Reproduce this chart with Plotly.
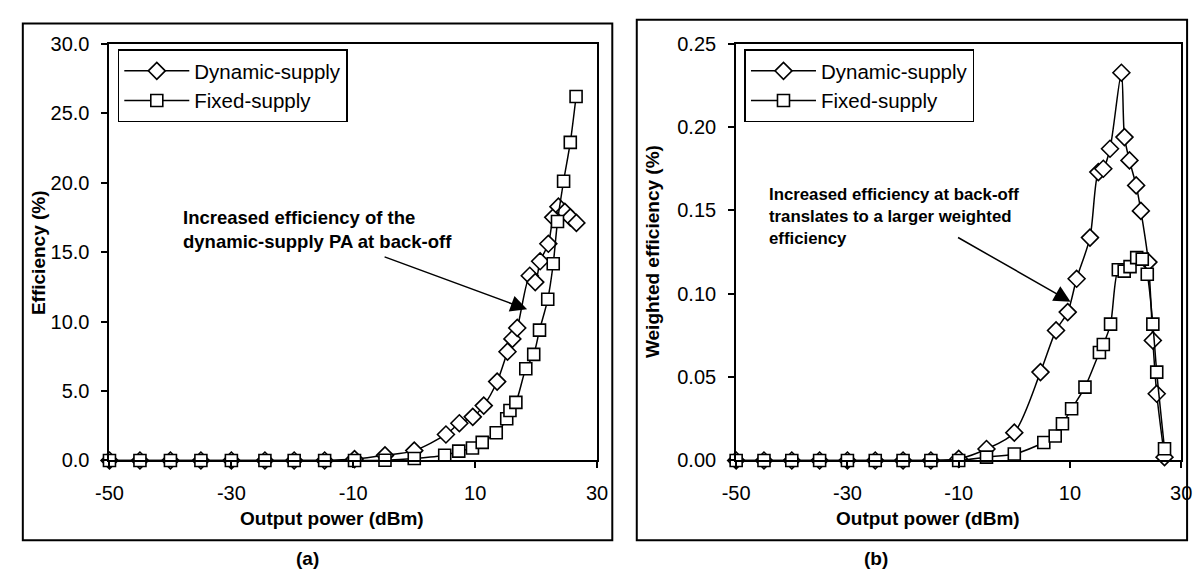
import plotly.graph_objects as go

# ---------------- data ----------------
# (a) Efficiency (%)
dyn_x_a = [-50, -45, -40, -35, -30, -24.5, -19.7, -14.7, -9.8, -4.8, 0, 5.2, 7.4, 9.6, 11.4, 13.6,
           15.3, 16.1, 16.9, 18.95, 19.85, 20.65, 22.0, 22.8, 23.65, 24.7, 25.6, 26.6]
dyn_y_a = [0, 0, 0, 0, 0, 0, 0, 0, 0.1, 0.37, 0.71, 1.87, 2.68, 3.14, 3.95, 5.68,
           7.83, 8.75, 9.54, 13.3, 12.84, 14.34, 15.6, 17.5, 18.27, 17.9, 17.5, 17.1]
fix_x_a = [-50, -45, -40, -35, -30, -24.5, -19.7, -14.7, -9.8, -4.8, 0, 5.0, 7.3, 9.55, 11.15, 13.45,
           15.17, 15.7, 16.67, 18.3, 19.6, 20.55, 21.9, 22.8, 23.5, 24.5, 25.6, 26.55]
fix_y_a = [0, 0, 0, 0, 0, 0, 0, 0, 0, 0.02, 0.14, 0.37, 0.67, 0.9, 1.3, 1.99,
           3.0, 3.6, 4.18, 6.6, 7.64, 9.38, 11.6, 14.16, 17.2, 20.1, 22.9, 26.2]

# (b) Weighted efficiency (%)
dyn_x_b = [-50, -45, -40, -35, -30, -25, -20, -15, -10, -5, 0, 4.7, 7.5, 9.6, 11.2, 13.6,
           15.1, 16.0, 17.2, 19.25, 19.8, 20.7, 21.9, 22.75, 24.1, 24.9, 25.6, 27.0]
dyn_y_b = [0, 0, 0, 0, 0, 0, 0, 0, 0.001, 0.0069, 0.0167, 0.053, 0.078, 0.089, 0.109, 0.1337,
           0.173, 0.175, 0.187, 0.2326, 0.194, 0.18, 0.165, 0.1497, 0.119, 0.072, 0.04, 0.002]
fix_x_b = [-50, -45, -40, -35, -30, -25, -20, -15, -10, -5, 0, 5.3, 7.35, 8.65, 10.3, 12.7,
           15.3, 16.0, 17.3, 18.7, 19.75, 20.8, 22.0, 23.0, 23.9, 24.9, 25.6, 27.0]
fix_y_b = [0, 0, 0, 0, 0, 0, 0, 0, 0, 0.002, 0.0039, 0.0108, 0.0147, 0.022, 0.031, 0.044,
           0.0648, 0.0696, 0.0818, 0.1144, 0.1136, 0.1163, 0.1217, 0.1208, 0.1117, 0.0818, 0.053, 0.007]

series_names = ["Dynamic-supply", "Fixed-supply"]
x_ticks = [-50, -30, -10, 10, 30]
x_tick_text = ["-50", "-30", "-10", "10", "30"]

# ---------------- layout helpers ----------------
W, H = 1202, 586
FONT = "Arial, Liberation Sans, sans-serif"


def fx(p):
    return p / W


def fy(p):
    return 1 - p / H


fig = go.Figure()

marker_common = dict(color="white", line=dict(color="black", width=1.6))
line_common = dict(color="black", width=1.5, shape="spline", smoothing=0.8)

fig.add_trace(go.Scatter(x=dyn_x_a, y=dyn_y_a, name=series_names[0], mode="lines+markers",
                         line=line_common, marker=dict(symbol="diamond", size=13, **marker_common),
                         cliponaxis=False, xaxis="x", yaxis="y", legend="legend", legendgroup="a1"))
fig.add_trace(go.Scatter(x=fix_x_a, y=fix_y_a, name=series_names[1], mode="lines+markers",
                         line=line_common, marker=dict(symbol="square", size=12, **marker_common),
                         cliponaxis=False, xaxis="x", yaxis="y", legend="legend", legendgroup="a2"))
fig.add_trace(go.Scatter(x=dyn_x_b, y=dyn_y_b, name=series_names[0], mode="lines+markers",
                         line=line_common, marker=dict(symbol="diamond", size=13, **marker_common),
                         cliponaxis=False, xaxis="x2", yaxis="y2", legend="legend2", legendgroup="b1"))
fig.add_trace(go.Scatter(x=fix_x_b, y=fix_y_b, name=series_names[1], mode="lines+markers",
                         line=line_common, marker=dict(symbol="square", size=12, **marker_common),
                         cliponaxis=False, xaxis="x2", yaxis="y2", legend="legend2", legendgroup="b2"))

axis_common = dict(showline=True, mirror=True, linecolor="black", linewidth=2,
                   ticks="outside", ticklen=6, tickwidth=1.5, tickcolor="black",
                   showgrid=False, zeroline=False,
                   tickfont=dict(family=FONT, size=20, color="black"))

xa = dict(range=[-50, 30], tickmode="array", tickvals=x_ticks, ticktext=x_tick_text,
          ticklabelstandoff=8, **axis_common)
ya_dom = [fy(467), fy(34)]

legend_common = dict(xanchor="left", yanchor="top", bordercolor="black", borderwidth=1.5,
                     bgcolor="white", font=dict(family=FONT, size=20.5, color="black"),
                     tracegroupgap=0, itemwidth=65)

fig.update_layout(
    width=W, height=H, margin=dict(l=0, r=0, t=0, b=0),
    paper_bgcolor="white", plot_bgcolor="white",
    font=dict(family=FONT, color="black"),
    xaxis=dict(domain=[fx(97.5), fx(595.5)], anchor="y", **xa),
    yaxis=dict(domain=ya_dom, anchor="x", range=[0, 30], dtick=5, tick0=0, tickformat=".1f",
               ticklabelstandoff=8, **axis_common),
    xaxis2=dict(domain=[fx(737.5), fx(1192)], anchor="y2", **xa),
    yaxis2=dict(domain=ya_dom, anchor="x2", range=[0, 0.25], dtick=0.05, tick0=0, tickformat=".2f",
                ticklabelstandoff=8, **axis_common),
    legend=dict(x=fx(106), y=fy(40), **legend_common),
    legend2=dict(x=fx(746), y=fy(40), **legend_common),
    showlegend=True,
)

# outer frames
fig.add_shape(type="rect", xref="paper", yref="paper", x0=fx(9), x1=fx(611), y0=fy(550), y1=fy(13),
              line=dict(color="black", width=2))
fig.add_shape(type="rect", xref="paper", yref="paper", x0=fx(636), x1=fx(1198), y0=fy(550), y1=fy(9),
              line=dict(color="black", width=2))

bold = dict(family=FONT, size=19, color="black", weight="bold")
ann = []
# axis titles
ann.append(dict(text="Output power (dBm)", x=fx(325), y=fy(527), xref="paper", yref="paper",
                showarrow=False, font=bold, xanchor="center", yanchor="middle"))
ann.append(dict(text="Output power (dBm)", x=fx(933), y=fy(527), xref="paper", yref="paper",
                showarrow=False, font=bold, xanchor="center", yanchor="middle"))
ann.append(dict(text="Efficiency (%)", x=fx(25), y=fy(251), xref="paper", yref="paper",
                showarrow=False, font=bold, textangle=-90, xanchor="center", yanchor="middle"))
ann.append(dict(text="Weighted efficiency (%)", x=fx(652), y=fy(250), xref="paper", yref="paper",
                showarrow=False, font=bold, textangle=-90, xanchor="center", yanchor="middle"))
# panel labels
ann.append(dict(text="(a)", x=fx(300), y=fy(569), xref="paper", yref="paper",
                showarrow=False, font=bold, xanchor="center", yanchor="middle"))
ann.append(dict(text="(b)", x=fx(880), y=fy(569), xref="paper", yref="paper",
                showarrow=False, font=bold, xanchor="center", yanchor="middle"))
# callouts
note_font_a = dict(family=FONT, size=18.5, color="black", weight="bold")
note_font_b = dict(family=FONT, size=16.8, color="black", weight="bold")
ann.append(dict(text="Increased efficiency of the<br>dynamic-supply PA at back-off",
                x=fx(171), y=fy(227), xref="paper", yref="paper", showarrow=False,
                font=note_font_a, align="left", xanchor="left", yanchor="middle"))
ann.append(dict(text="Increased efficiency at back-off<br>translates to a larger weighted<br>efficiency",
                x=fx(769), y=fy(213), xref="paper", yref="paper", showarrow=False,
                font=note_font_b, align="left", xanchor="left", yanchor="middle"))
# arrows
ann.append(dict(text="", x=fx(524), y=fy(310), xref="paper", yref="paper", showarrow=True,
                ax=-144, ay=-53, arrowhead=2, arrowsize=2.2, arrowwidth=1.5, arrowcolor="black"))
ann.append(dict(text="", x=fx(1079), y=fy(302), xref="paper", yref="paper", showarrow=True,
                ax=-114, ay=-65, arrowhead=2, arrowsize=2.2, arrowwidth=1.5, arrowcolor="black"))
fig.update_layout(annotations=ann)

fig.write_html("out.html")
